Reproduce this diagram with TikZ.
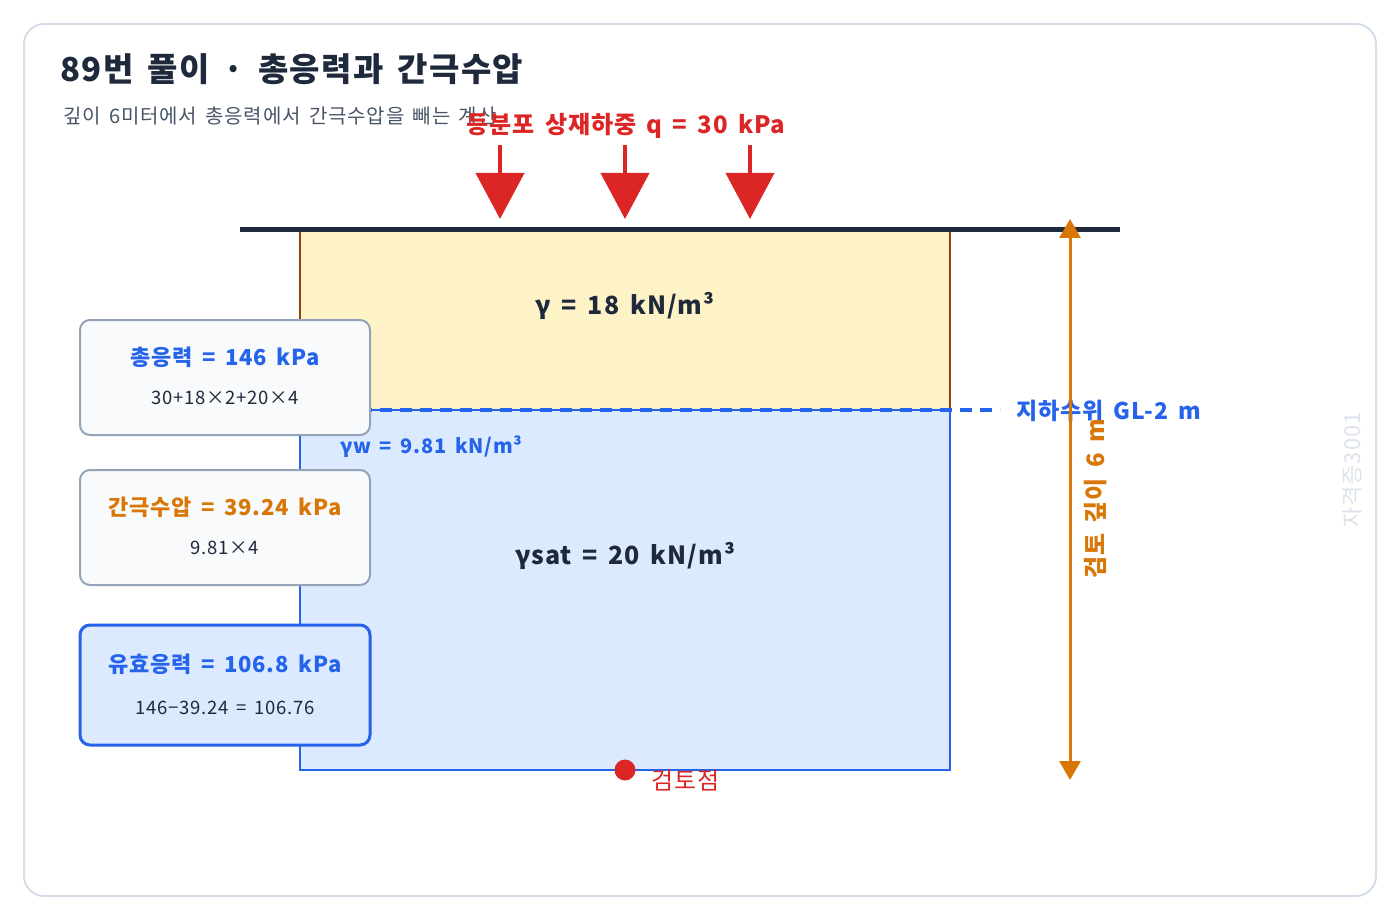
\documentclass[tikz,border=0pt]{standalone}
\usepackage{fontspec}
\setmainfont{Noto Sans CJK KR}[LetterSpace=4,WordSpace=1.6]
\usetikzlibrary{arrows.meta,positioning}
\definecolor{ink}{HTML}{1E293B}
\definecolor{subgrey}{HTML}{475569}
\definecolor{loadred}{HTML}{DC2626}
\definecolor{wblue}{HTML}{2563EB}
\definecolor{dimorange}{HTML}{D97706}
\definecolor{sandfill}{HTML}{FEF3C7}
\definecolor{sandedge}{HTML}{92400E}
\definecolor{satfill}{HTML}{DBEAFE}
\definecolor{boxfill}{HTML}{F8FAFC}
\definecolor{boxedge}{HTML}{94A3B8}
\definecolor{frame}{HTML}{D5DEE9}
\definecolor{wmark}{HTML}{DDE3EA}
\newcommand{\pxsize}[1]{\fontsize{#1}{#1}\selectfont}

\begin{document}
\begin{tikzpicture}[x=1pt,y=-1pt,
    load/.style={loadred, line width=4pt, -{Triangle[width=48pt,length=46pt]}},
    dim/.style={dimorange, line width=3pt, {Triangle[width=21pt,length=19pt]}-{Triangle[width=21pt,length=19pt]}},
    calcbox/.style={draw=boxedge, fill=boxfill, line width=2pt, rounded corners=10pt, minimum width=290pt, inner sep=0pt},
    effbox/.style={calcbox, draw=wblue, fill=satfill, line width=3pt},
    head/.style={font=\pxsize{22}\bfseries, inner sep=0pt},
    sub/.style={font=\pxsize{18.5}, text=ink, inner sep=0pt}]
    \useasboundingbox (0,0) rectangle (1400,920);
    % Frame and title
    \draw[frame, line width=2pt, rounded corners=20pt] (24,24) rectangle (1376,896);
    \node[anchor=west, inner sep=0pt, text=ink, font=\pxsize{33}\bfseries] (title) at (60,69) {89번 풀이 · 총응력과 간극수압};
    \node[anchor=west, inner sep=0pt, text=subgrey, font=\pxsize{20}] (subtitle) at (63,116) {깊이 6미터에서 총응력에서 간극수압을 빼는 계산};

    % Soil layers
    \fill[sandfill] (300,230) rectangle (950,410);
    \draw[sandedge, line width=2.5pt] (300,230) -- (300,410) (950,230) -- (950,410);
    \draw[wblue, fill=satfill, line width=2.5pt] (300,410) rectangle (950,770);
    \node[text=ink, font=\pxsize{25}\bfseries, inner sep=0pt] (gamma) at (625,306) {γ = 18 kN/m³};
    \node[text=ink, font=\pxsize{25}\bfseries, inner sep=0pt] (gsat) at (625,556) {γsat = 20 kN/m³};
    \node[anchor=west, text=wblue, font=\pxsize{20}\bfseries, inner sep=0pt] (gw) at (340,447) {γw = 9.81 kN/m³};

    % Ground surface and water table
    \coordinate (gleft) at (240,230);
    \coordinate (gright) at (1120,230);
    \draw[ink, line width=5pt] (gleft) -- (gright);
    \coordinate (wleft) at (300,410);
    \node[anchor=west, text=wblue, font=\pxsize{23}\bfseries, inner sep=0pt] (gwt) at (1016,411) {지하수위 GL-2 m};
    \draw[wblue, line width=4pt, dash pattern=on 12pt off 8pt] (wleft) -- (1000,410);

    % Surcharge
    \node[text=loadred, font=\pxsize{24}\bfseries, inner sep=0pt] (qlabel) at (626,126) {등분포 상재하중 q = 30 kPa};
    \foreach \x [count=\i] in {500,625,750} {
        \coordinate (qtop\i) at (\x,145);
        \coordinate (qbot\i) at (\x,219);
        \draw[load] (qtop\i) -- (qbot\i);
    }

    % Depth dimension
    \coordinate (dtop) at (1070,219);
    \coordinate (dbot) at (1070,780);
    \draw[dim] (dtop) -- (dbot);
    \node[rotate=90, text=dimorange, font=\pxsize{24}\bfseries, inner sep=0pt] (depth) at (1096,499) {검토 깊이 6 m};
    \node[rotate=90, text=wmark, font=\pxsize{22}, inner sep=0pt] (wm) at (1352,470) {자격증3001};

    % Check point
    \node[circle, fill=loadred, minimum size=21pt, inner sep=0pt] (pt) at (625,770) {};
    \node[anchor=west, text=loadred, font=\pxsize{24}, inner sep=0pt] (ptlabel) at (651,780) {검토점};

    % Calculation boxes
    \node[calcbox, minimum height=115pt] (totbox) at (225,377.5) {};
    \node[head, text=wblue] (tothead) at (225,357) {총응력 = 146 kPa};
    \node[sub] (totsub) at (225,398) {30+18×2+20×4};
    \node[calcbox, minimum height=115pt] (porebox) at (225,527.5) {};
    \node[head, text=dimorange] (porehead) at (225,507) {간극수압 = 39.24 kPa};
    \node[sub] (poresub) at (225,548) {9.81×4};
    \node[effbox, minimum height=120pt] (effbox) at (225,685) {};
    \node[head, text=wblue] (effhead) at (225,664) {유효응력 = 106.8 kPa};
    \node[sub] (effsub) at (225,708) {146−39.24 = 106.76};
\end{tikzpicture}
\end{document}
